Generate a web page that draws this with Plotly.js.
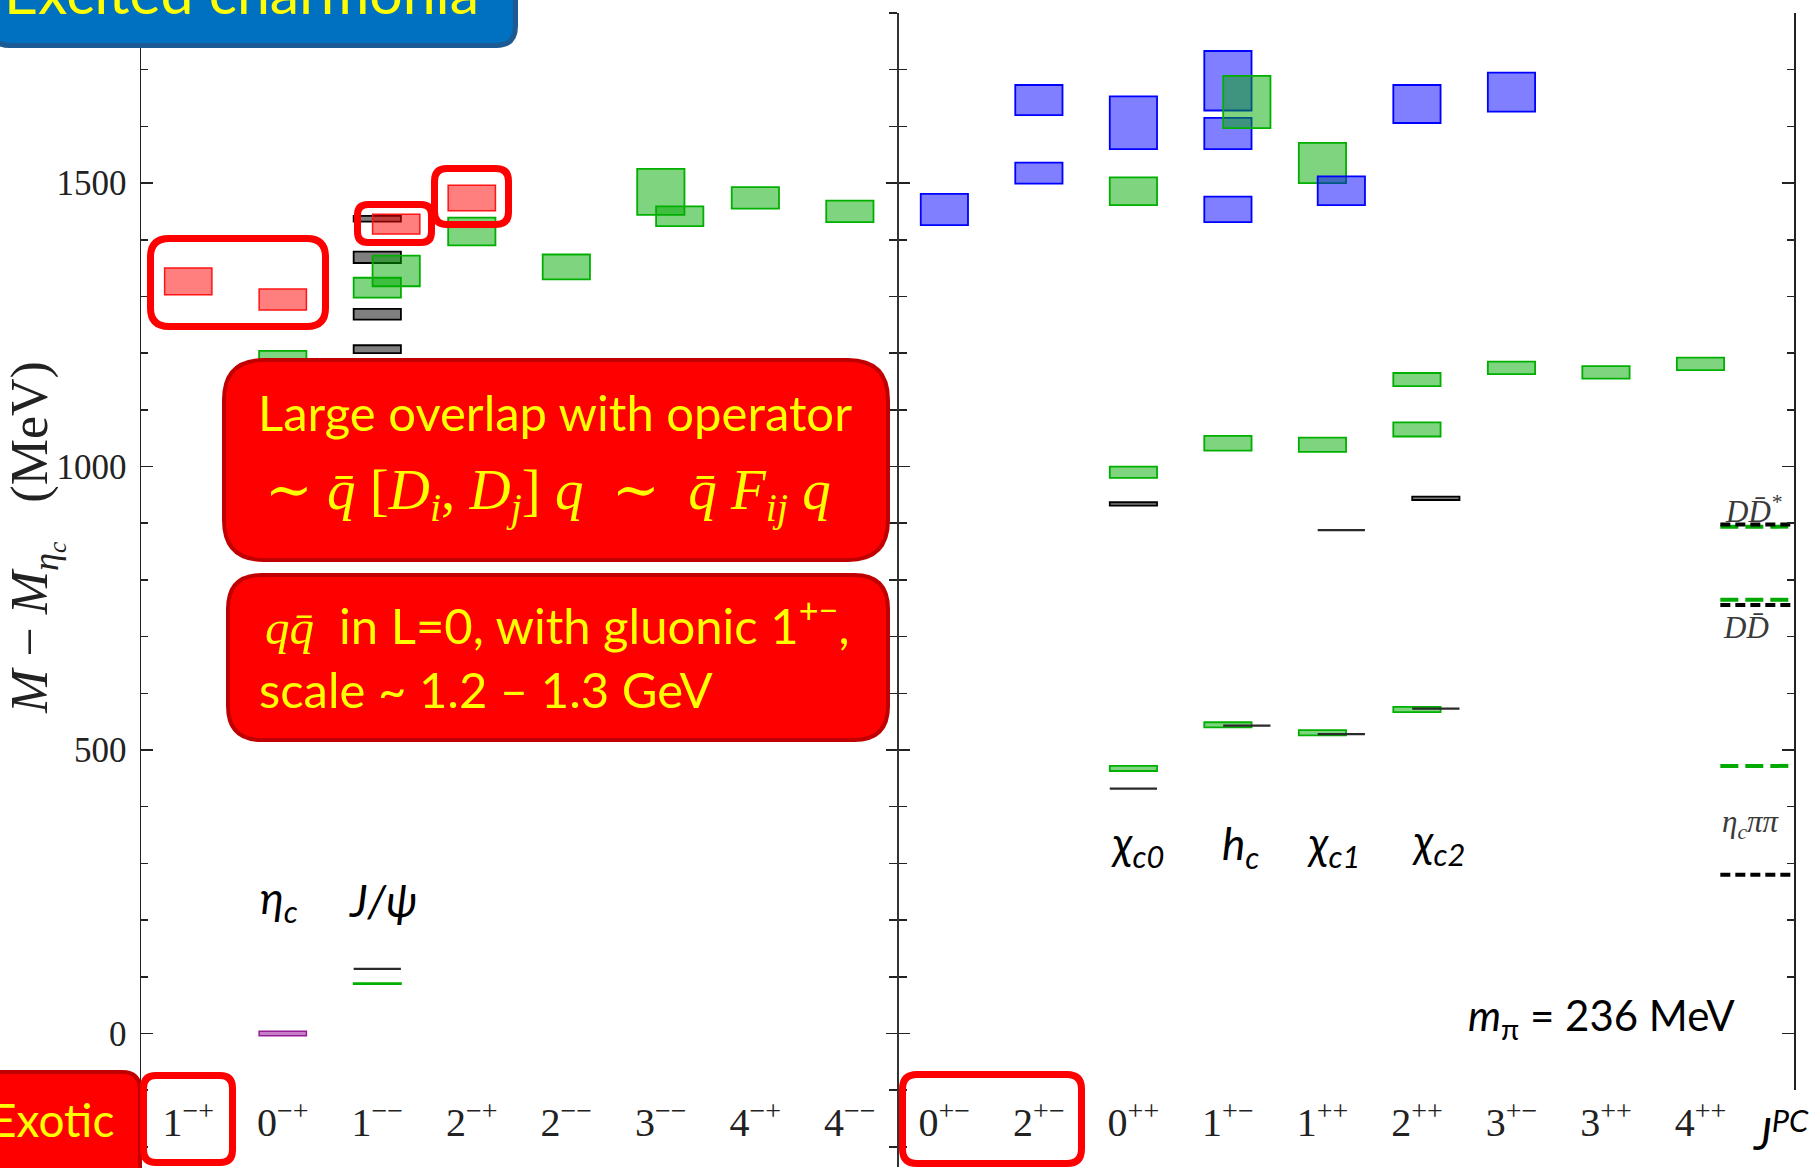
<!DOCTYPE html>
<html>
<head>
<meta charset="utf-8">
<script src="https://cdn.plot.ly/plotly-3.0.1.min.js"></script>
<style>
  html, body { margin: 0; padding: 0; background: #ffffff; overflow: hidden; }
  #chart { width: 1814px; height: 1168px; }
</style>
</head>
<body>
<div id="chart"></div>
<script>
// ---- J^PC channels along the horizontal axis ----
const channels = ['1-+','0-+','1--','2-+','2--','3--','4-+','4--','0+-','2+-','0++','1+-','1++','2++','3+-','3++','4++'];
const channelLabels = ['1<sup>−+</sup>','0<sup>−+</sup>','1<sup>−−</sup>','2<sup>−+</sup>','2<sup>−−</sup>','3<sup>−−</sup>',
  '4<sup>−+</sup>','4<sup>−−</sup>','0<sup>+−</sup>','2<sup>+−</sup>','0<sup>++</sup>','1<sup>+−</sup>','1<sup>++</sup>',
  '2<sup>++</sup>','3<sup>+−</sup>','3<sup>++</sup>','4<sup>++</sup>'];

// ---- lattice levels, M - M(eta_c) in MeV: channel, column (0 main / 1 shifted), low, high ----
// green: conventional charmonium-like levels
const greenChannel = ['0-+','1--','1--','1--','2-+','2--','3--','3--','4-+','4--','0++','0++','0++','1+-','1+-','1+-','1++','1++','1++','2++','2++','2++','3+-','3++','4++'];
const greenColumn  = [0,0,1,0,0,0,0,1,0,0,0,0,0,1,0,0,0,0,0,0,0,0,0,0,0];
const greenLow     = [1186,1298,1318,87,1390,1330,1444,1424,1455,1431,1461,980,463,1597,1028,540,1500,1026,526,1142,1053,567,1163,1155,1170];
const greenHigh    = [1204,1333,1372,89,1439,1374,1525,1459,1493,1469,1510,1000,472,1689,1054,549,1571,1051,535,1165,1078,576,1185,1177,1192];

// blue: exotic-parity / hybrid-like levels in the positive-parity sector
const blueChannel = ['0+-','2+-','2+-','0++','1+-','1+-','1+-','1++','2++','3+-'];
const blueColumn  = [0,0,0,0,0,0,0,1,0,0];
const blueLow     = [1426,1499,1620,1560,1431,1560,1628,1461,1606,1626];
const blueHigh    = [1481,1536,1673,1653,1476,1615,1733,1512,1673,1695];

// red: lightest hybrid supermultiplet
const redChannel = ['1-+','0-+','1--','2-+'];
const redColumn  = [0,0,1,0];
const redLow     = [1303,1276,1410,1451];
const redHigh    = [1350,1313,1445,1496];

// grey: experimental states with uncertainty bands
const greyChannel = ['1--','1--','1--','1--','0++','2++'];
const greyColumn  = [0,0,0,0,0,1];
const greyLow     = [1432,1359,1259,1200,931,941];
const greyHigh    = [1442,1379,1278,1214,937,947];

// purple: eta_c reference level
const etaChannel = ['0-+'];
const etaColumn  = [0];
const etaLow     = [-4];
const etaHigh    = [4];

// black lines: experimental masses
const expChannel = ['1--','0++','1+-','1++','1++','2++'];
const expColumn  = [0,0,1,1,1,1];
const expMass    = [114,432,543,888,528,573];

// two-meson thresholds (lattice = green dashed, physical = black dotted)
const thresholdNames    = ['<i>DD̄<sup>*</sup></i>', '<i>DD̄</i>', '<i>η<sub>c</sub>ππ</i>'];
const thresholdLattice  = [894, 765, 472];
const thresholdPhysical = [898, 756, 280];

// ---- geometry ----
const FIG_W = 1814, FIG_H = 1168;
const M = { l: 141, r: 19, t: 13, b: 1 };
const PW = FIG_W - M.l - M.r, PH = FIG_H - M.t - M.b;
const X_RANGE = [-0.5, 17];
const Y_RANGE = [-235.5, 1800];
const SHIFT = 0.2, BOX_W = 0.5;
const THR_X = [16.21, 16.97];
const px = v => (v - M.l) / PW;            // figure pixel -> paper x
const py = v => (M.t + PH - v) / PH;       // figure pixel -> paper y
const yFrac = v => (v - Y_RANGE[0]) / (Y_RANGE[1] - Y_RANGE[0]);

const CAL = 'Lato, "Open Sans", "DejaVu Sans", sans-serif';
const SERIF = '"Liberation Serif", "DejaVu Serif", serif';
const YELLOW = '#FFFF00';

function boxTrace(ch, col, lo, hi, fill, line, lw, which) {
  const x = [], base = [], h = [];
  ch.forEach((c, i) => {
    if (col[i] !== which) return;
    x.push(channels.indexOf(c) + col[i] * SHIFT);
    base.push(lo[i]);
    h.push(hi[i] - lo[i]);
  });
  return { type: 'bar', x: x, y: h, base: base, width: BOX_W,
    marker: { color: fill, line: { color: line, width: lw } },
    showlegend: false, hoverinfo: 'skip' };
}

function segments(ch, col, mass, half) {
  const x = [], y = [];
  ch.forEach((c, i) => {
    const cx = channels.indexOf(c) + col[i] * SHIFT;
    x.push(cx - half, cx + half, null);
    y.push(mass[i], mass[i], null);
  });
  return { x, y };
}

function thresholdTrace(values, color, dash) {
  const x = [], y = [];
  values.forEach(v => { x.push(THR_X[0], THR_X[1], null); y.push(v, v, null); });
  return { type: 'scatter', mode: 'lines', x, y, line: { color, width: 4, dash },
    showlegend: false, hoverinfo: 'skip' };
}

const GREEN_F = 'rgba(0,170,0,0.5)', GREEN_L = 'rgb(0,175,0)';
const BLUE_F = 'rgba(0,0,255,0.5)', BLUE_L = 'rgb(0,0,255)';
const RED_F = 'rgba(255,0,0,0.5)', RED_L = 'rgb(255,20,20)';
const GREY_F = 'rgba(0,0,0,0.5)', GREY_L = 'rgb(0,0,0)';

const traces = [];
[0, 1].forEach(which => {
  traces.push(boxTrace(greyChannel, greyColumn, greyLow, greyHigh, GREY_F, GREY_L, 1.8, which));
  traces.push(boxTrace(blueChannel, blueColumn, blueLow, blueHigh, BLUE_F, BLUE_L, 1.8, which));
  traces.push(boxTrace(greenChannel, greenColumn, greenLow, greenHigh, GREEN_F, GREEN_L, 1.8, which));
  traces.push(boxTrace(redChannel, redColumn, redLow, redHigh, RED_F, RED_L, 1.5, which));
  traces.push(boxTrace(etaChannel, etaColumn, etaLow, etaHigh, 'rgba(160,40,160,0.6)', 'rgb(150,30,150)', 1.5, which));
});
const expSeg = segments(expChannel, expColumn, expMass, BOX_W / 2);
traces.push({ type: 'scatter', mode: 'lines', x: expSeg.x, y: expSeg.y,
  line: { color: '#2a2a2a', width: 2.2 }, showlegend: false, hoverinfo: 'skip' });
traces.push(thresholdTrace(thresholdLattice, 'rgb(0,170,0)', '18px,7px'));
traces.push(thresholdTrace(thresholdPhysical, '#000000', '10px,5px'));
// carriers for the middle and right-hand axes
traces.push({ type: 'scatter', x: [null], y: [null], yaxis: 'y2', showlegend: false, hoverinfo: 'skip' });
traces.push({ type: 'scatter', x: [null], y: [null], yaxis: 'y3', showlegend: false, hoverinfo: 'skip' });
traces.push({ type: 'scatter', x: [null], y: [null], yaxis: 'y4', showlegend: false, hoverinfo: 'skip' });

// rounded rectangle given by its outer pixel edges, stroke kept inside
function rr(x0, y0, x1, y1, r, lw) {
  const h = lw / 2;
  x0 += h; y0 += h; x1 -= h; y1 -= h; r -= h;
  const X = v => px(v).toFixed(5), Y = v => py(v).toFixed(5);
  return `M${X(x0 + r)},${Y(y0)} L${X(x1 - r)},${Y(y0)} Q${X(x1)},${Y(y0)} ${X(x1)},${Y(y0 + r)} ` +
    `L${X(x1)},${Y(y1 - r)} Q${X(x1)},${Y(y1)} ${X(x1 - r)},${Y(y1)} L${X(x0 + r)},${Y(y1)} ` +
    `Q${X(x0)},${Y(y1)} ${X(x0)},${Y(y1 - r)} L${X(x0)},${Y(y0 + r)} Q${X(x0)},${Y(y0)} ${X(x0 + r)},${Y(y0)} Z`;
}
function panel(x0, y0, x1, y1, r, fill, line, lw) {
  return { type: 'path', xref: 'paper', yref: 'paper', layer: 'above',
    path: rr(x0, y0, x1, y1, r, lw), fillcolor: fill, line: { color: line, width: lw } };
}
function outline(x0, y0, x1, y1, r) {
  return { type: 'path', xref: 'paper', yref: 'paper', layer: 'above',
    path: rr(x0, y0, x1, y1, r, 7), fillcolor: 'rgba(0,0,0,0)', line: { color: '#FF0000', width: 7 } };
}

const shapes = [
  panel(-12, -40, 518, 48, 22, '#0070C0', '#1B5A92', 5),
  panel(222, 358, 890, 562, 42, '#FF0000', '#C00000', 4),
  panel(226, 573, 890, 742, 36, '#FF0000', '#C00000', 4),
  panel(-20, 1070, 142, 1200, 20, '#FF0000', '#C00000', 4),
  outline(147, 235, 329, 330, 22),
  outline(354, 201, 435, 246, 14),
  outline(431, 165, 512, 228, 16),
  outline(140, 1072, 236, 1166, 16),
  outline(899, 1071, 1085, 1167, 18)
];

function note(text, x, y, size, opts) {
  return Object.assign({ text, xref: 'paper', yref: 'paper', x: px(x), y: py(y),
    xanchor: 'center', yanchor: 'middle', showarrow: false,
    font: { family: CAL, size, color: '#000000' } }, opts || {});
}

const annotations = [
  note('Excited charmonia', 241, 29, 59, { yanchor: 'bottom', font: { family: CAL, size: 59, color: YELLOW } }),
  note('Large overlap with operator', 555, 412, 49, { font: { family: CAL, size: 49, color: YELLOW } }),
  note('∼ <i>q̄</i> [<i>D<sub>i</sub></i>, <i>D<sub>j</sub></i>] <i>q</i>\u00a0\u00a0∼\u00a0\u00a0<i>q̄ F<sub>ij</sub> q</i>', 548, 494, 57,
    { font: { family: SERIF, size: 57, color: YELLOW } }),
  note('<span style="font-family:\'Liberation Serif\',serif"><i>qq̄</i></span>\u00a0 in L=0, with gluonic 1<sup>+−</sup>,', 263, 622, 49,
    { xanchor: 'left', font: { family: CAL, size: 49, color: YELLOW } }),
  note('scale ~ 1.2 – 1.3 GeV', 257, 689, 49, { xanchor: 'left', font: { family: CAL, size: 49, color: YELLOW } }),
  note('Exotic', 116, 1119, 46, { xanchor: 'right', font: { family: CAL, size: 46, color: YELLOW } }),
  note('<i>η<sub>c</sub></i>', 279, 900, 44),
  note('<i>J/ψ</i>', 383, 900, 44),
  note('<i>χ<sub>c0</sub></i>', 1137, 845, 44),
  note('<i>h<sub>c</sub></i>', 1240, 846, 44),
  note('<i>χ<sub>c1</sub></i>', 1333, 845, 44),
  note('<i>χ<sub>c2</sub></i>', 1438, 844, 44),
  note('<i>m</i><sub>π</sub> = 236 MeV', 1601, 1018, 42),
  note('<i>J<sup>PC</sup></i>', 1781, 1130, 44),
  note('<i>M</i> − <i>M</i><sub><i>η<sub>c</sub></i></sub>\u00a0\u00a0\u00a0(MeV)', 36, 538, 52,
    { textangle: -90, font: { family: SERIF, size: 52, color: '#222' } })
];
const thresholdLabelY = [509, 627, 824];
const thresholdLabelX = [1753, 1746, 1751];
thresholdNames.forEach((t, i) => {
  annotations.push(note(t, thresholdLabelX[i], thresholdLabelY[i], 31,
    { font: { family: SERIF, size: 31, color: '#3a3a3a' } }));
});

const minorTicks = (len, dir) => ({ dtick: 100, tick0: 0, ticks: dir, ticklen: len, tickwidth: 1.5, tickcolor: '#222', showgrid: false });

const layout = {
  width: FIG_W, height: FIG_H,
  margin: M,
  paper_bgcolor: '#ffffff', plot_bgcolor: 'rgba(0,0,0,0)',
  barmode: 'overlay',
  showlegend: false,
  xaxis: {
    range: X_RANGE, anchor: 'free', position: 0.062,
    tickmode: 'array', tickvals: channels.map((c, i) => i), ticktext: channelLabels,
    ticks: '', showline: false, showgrid: false, zeroline: false,
    tickfont: { family: SERIF, size: 40, color: '#222' }
  },
  yaxis: {
    range: Y_RANGE, anchor: 'x', side: 'left',
    showline: true, linecolor: '#222', linewidth: 1.5,
    ticks: 'inside', ticklen: 12, tickwidth: 1.5, tickcolor: '#222',
    tick0: 0, dtick: 500, minor: minorTicks(7, 'inside'),
    showgrid: false, zeroline: false,
    tickfont: { family: SERIF, size: 35, color: '#222' },
    ticklabelstandoff: 6
  },
  yaxis2: {
    range: Y_RANGE, overlaying: 'y', anchor: 'free', position: (7.5 - X_RANGE[0]) / (X_RANGE[1] - X_RANGE[0]),
    side: 'left', showline: true, linecolor: '#333', linewidth: 1.5,
    ticks: 'inside', ticklen: 11, tickwidth: 1.5, tickcolor: '#222',
    tick0: 0, dtick: 500, minor: minorTicks(8, 'inside'),
    showticklabels: false, showgrid: false, zeroline: false
  },
  yaxis3: {
    range: Y_RANGE, overlaying: 'y', anchor: 'free', position: (7.5 - X_RANGE[0]) / (X_RANGE[1] - X_RANGE[0]),
    side: 'left', showline: false,
    ticks: 'outside', ticklen: 11, tickwidth: 1.5, tickcolor: '#222',
    tick0: 0, dtick: 500, minor: minorTicks(8, 'outside'),
    showticklabels: false, showgrid: false, zeroline: false
  },
  yaxis4: {
    range: [-100, 1800], domain: [yFrac(-100), 1], anchor: 'free', position: 1,
    side: 'right', showline: true, linecolor: '#222', linewidth: 2,
    ticks: 'inside', ticklen: 12, tickwidth: 1.5, tickcolor: '#222',
    tick0: 0, dtick: 500, minor: minorTicks(7, 'inside'),
    showticklabels: false, showgrid: false, zeroline: false
  },
  shapes: shapes,
  annotations: annotations
};

Plotly.newPlot('chart', traces, layout, { displayModeBar: false, staticPlot: true });
</script>
</body>
</html>
